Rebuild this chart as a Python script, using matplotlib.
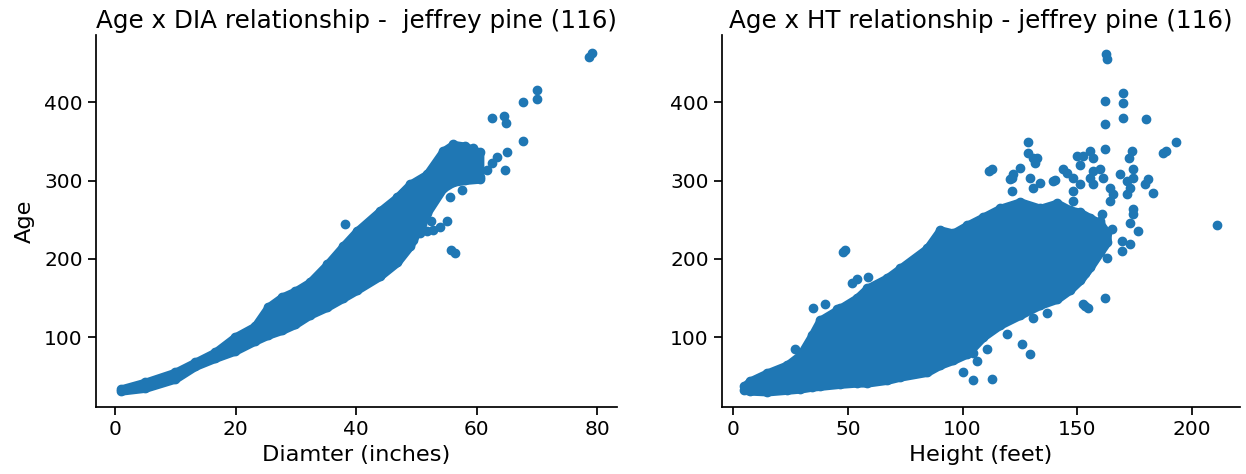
import numpy as np
import matplotlib
matplotlib.use("Agg")
import matplotlib.pyplot as plt

BLUE = "#1f77b4"

# ---- Age vs diameter ----
# dense band of overlapping trees: diameter with lower / upper age of the band
dia_band_x = [1.0, 5.0, 10.0, 13.3, 16.6, 19.9, 23.2, 25.4, 27.7, 29.9, 32.3,
              35.2, 37.8, 40.1, 43.9, 46.8, 48.9, 51.7, 54.4, 56.1, 58.0, 60.5]
dia_band_lo = [31.0, 34.6, 46.4, 62.6, 72.9, 82.1, 94.9, 102.6, 108.7, 116.3, 128.1,
               138.3, 149.6, 159.8, 177.6, 195.5, 216, 258, 290, 298, 300.3, 302]
dia_band_hi = [33.6, 42.2, 55, 67.8, 80.6, 100, 113.8, 138.3, 151.1, 158.7, 170,
               193, 216, 235.3, 260.9, 278.8, 295.1, 307.9, 337.6, 346.2, 344, 336]
# scattered trees outside the band
dia_pts_x = [38.1, 55.7, 56.4, 62.5, 64.5, 64.8, 67.7, 70.0, 70.0, 67.7, 65.0,
             64.7, 78.6, 79.1, 56.7, 59.4, 59.7, 58.4, 57.7, 59.4, 58.9, 61.7,
             62.5, 63.3, 60.5, 57.5, 55.6, 53.9, 52.7, 50.6, 47.8,
             49.5, 51.7, 55.0, 51.0, 52.5]
dia_pts_age = [244.1, 211.4, 207.3, 380, 382, 373.3, 400.4, 415.7, 404, 350.3, 336,
               313.5, 457.6, 463.7, 339.1, 341.1, 329.9, 329.9, 325.8, 313.5, 304.3, 313.5,
               322.2, 329.9, 304.3, 288, 278.8, 240.4, 236.9, 232.8, 283.9,
               224, 235, 248, 245, 249]

# ---- Age vs height ----
ht_band_x = [4.8, 7.4, 14.8, 23.5, 29.2, 34.4, 37.9, 46.6, 54.0, 58.4, 67.1,
             72.8, 84.5, 90.2, 95.9, 102.0, 108.9, 116.3, 125.1, 133.8, 141.2,
             146.8, 151.2, 155.6, 159.9, 163.0]
ht_band_lo = [32.1, 31, 30, 32.1, 33.6, 36.1, 37.1, 39.7, 41.3, 41.3, 44.8,
              48.9, 55, 64.2, 70.4, 78.5, 100, 115.3, 128.1, 140.9, 148.5,
              160.3, 172.5, 189.4, 208.3, 221.6]
ht_band_hi = [37.2, 43.8, 54, 64.2, 77, 102.6, 121.5, 136.8, 150.1, 162.3, 175.6,
              187.9, 213.4, 236.9, 232.8, 243, 253.3, 264.5, 272.7, 264.5, 271.1,
              262.4, 259.4, 252.2, 245.6, 232.8]
ht_pts_x = [27.0, 34.4, 34.9, 40.1, 45.3, 49.7, 47.9, 48.8, 51.9, 54.0, 58.8,
            100.2, 104.6, 112.9, 106.3, 104.6, 110.7, 125.9, 129.4, 153.4,
            111.5, 121.6, 125.1, 130.7, 129.4, 133.8, 139.4,
            162.5, 163.0, 169.9, 169.9, 162.1, 169.9, 180.0, 162.1,
            128.5, 128.5, 132.5, 131.6, 162.1, 173.9, 172.5, 188.7, 193.0, 187.4,
            112.9, 122.0, 120.7, 130.7, 140.3, 121.6,
            149.9, 152.5, 155.6, 156.9, 151.2, 143.8, 145.5, 148.1, 151.2, 148.1,
            148.1, 156.9, 159.9, 155.6, 156.9, 161.2, 164.3, 165.6, 164.3, 168.6,
            171.7, 174.3, 174.3, 173.0, 171.7, 180.8, 183.0, 179.5, 174.3, 174.3,
            173.0, 176.5, 160.8, 159.9, 162.1, 165.1, 169.5, 173.0, 169.5, 163.0,
            156.9, 153.4, 149.9, 162.1, 152.5, 154.7, 210.9, 119.4, 130.7, 136.8]
ht_pts_age = [84.7, 95.9, 136.8, 141.9, 135.8, 133.2, 208.3, 211.4, 169, 174.1, 176.6,
              55, 44.8, 46.4, 69.3, 79.6, 84.7, 90.8, 78.5, 139.8,
              311.9, 303.3, 315.6, 328.9, 303.3, 296.7, 299.2,
              461.7, 455.3, 412.6, 398.8, 402.4, 380, 378.4, 371.8,
              349.3, 335, 328.9, 322.2, 340.1, 337.6, 328.9, 337.6, 349.3, 335,
              314.6, 308.4, 301.8, 290, 300.3, 286.5,
              330.9, 330.9, 337.6, 328.9, 320.6, 314.6, 309.5, 303.3, 295.1, 286.5,
              273.7, 311.9, 314.6, 303.3, 295.1, 303.3, 290, 282.9, 273.7, 308.4,
              299.2, 314.6, 303.3, 290, 282.9, 301.8, 283.9, 295.1, 263.5, 257.3,
              245.6, 235.3, 257.3, 248.1, 235.3, 237.9, 222.6, 218.5, 209.8, 201.1,
              209.8, 181.7, 171.5, 150.1, 141.9, 136.8, 243, 104.1, 124.5, 130.7]

plt.rcParams["font.family"] = ["DejaVu Sans"]

fig = plt.figure(figsize=(12.46, 4.74), dpi=100)
ax1 = fig.add_axes([0.0770, 0.1414, 0.4181, 0.7848])
ax2 = fig.add_axes([0.5795, 0.1414, 0.4157, 0.7848])


def draw(ax, bx, blo, bhi, px, py):
    # the band outline is stroked one marker wide so its edge sits where the
    # outermost overlapping dots end
    ax.fill_between(bx, blo, bhi, facecolor=BLUE, edgecolor=BLUE,
                    linewidth=6, joinstyle="round", capstyle="round")
    ax.scatter(bx, blo, s=36, color=BLUE)
    ax.scatter(bx, bhi, s=36, color=BLUE)
    ax.scatter(px, py, s=36, color=BLUE)
    for side in ("top", "right"):
        ax.spines[side].set_visible(False)
    for side in ("left", "bottom"):
        ax.spines[side].set_linewidth(1.25)
    ax.tick_params(labelsize=14.5, length=6, width=1.25)


draw(ax1, dia_band_x, dia_band_lo, dia_band_hi, dia_pts_x, dia_pts_age)
draw(ax2, ht_band_x, ht_band_lo, ht_band_hi, ht_pts_x, ht_pts_age)

ax1.set_xlim(-3.15, 83.25)
ax2.set_xlim(-4.8, 220.9)
for ax in (ax1, ax2):
    ax.set_ylim(10.6, 486.2)
    ax.set_yticks([100, 200, 300, 400])

ax1.set_xticks([0, 20, 40, 60, 80])
ax2.set_xticks([0, 50, 100, 150, 200])

ax1.set_title("Age x DIA relationship -  jeffrey pine (116)", fontsize=17.7, pad=5)
ax2.set_title("Age x HT relationship - jeffrey pine (116)", fontsize=17.7, pad=5)
ax1.set_xlabel("Diamter (inches)", fontsize=16.2)
ax2.set_xlabel("Height (feet)", fontsize=16.2)
ax1.set_ylabel("Age", fontsize=16.2, labelpad=7)

fig.savefig("out.png", dpi=100)
